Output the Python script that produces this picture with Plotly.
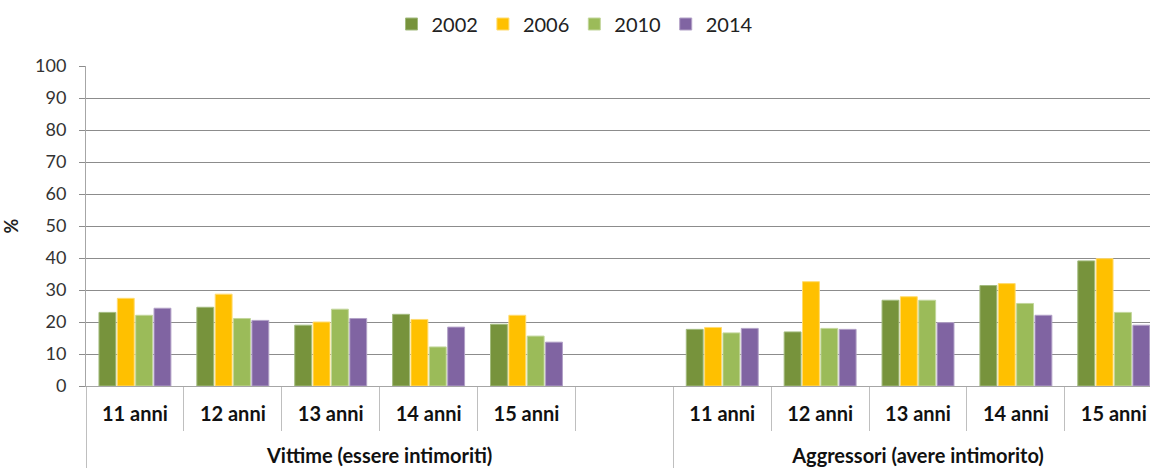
import plotly.graph_objects as go

years = ["2002", "2006", "2010", "2014"]
colors = ["#77933C", "#FFC000", "#9BBB59", "#8064A2"]
edge_colors = ["#A3BB7E", "#FFDB70", "#C2D69B", "#B2A1C7"]

group_labels = ["<br>Vittime (essere intimoriti)"] * 6 + ["<br>Aggressori (avere intimorito)"] * 5
age_labels = ["11 anni", "12 anni", "13 anni", "14 anni", "15 anni", " ",
              "11 anni", "12 anni", "13 anni", "14 anni", "15 anni"]

v2002 = [23.0, 24.6, 19.0, 22.4, 19.3, None, 17.7, 16.9, 26.8, 31.4, 39.1]
v2006 = [27.4, 28.7, 20.0, 20.8, 22.1, None, 18.3, 32.6, 27.9, 32.0, 39.8]
v2010 = [22.1, 21.1, 24.0, 12.2, 15.6, None, 16.6, 18.0, 26.8, 25.8, 23.0]
v2014 = [24.3, 20.5, 21.1, 18.4, 13.7, None, 18.0, 17.7, 19.8, 22.1, 19.0]
series = [v2002, v2006, v2010, v2014]

font_family = "Lato, 'Open Sans', sans-serif"

fig = go.Figure()
for name, vals, c, ec in zip(years, series, colors, edge_colors):
    fig.add_trace(go.Bar(
        name=name,
        x=[group_labels, age_labels],
        y=vals,
        marker=dict(color=c, line=dict(color=ec, width=1)),
    ))

fig.update_layout(
    width=1150, height=470,
    margin=dict(l=86, r=0, t=66, b=84, autoexpand=False),
    paper_bgcolor="white", plot_bgcolor="white",
    barmode="group", bargap=0.25, bargroupgap=0.08,
    font=dict(family=font_family, color="#222"),
    showlegend=True,
    legend=dict(orientation="h", x=0.5, xref="container", xanchor="center",
                y=1 - 24 / 470, yref="container", yanchor="middle",
                font=dict(size=20, color="#222"), itemwidth=30,
                traceorder="normal"),
    yaxis=dict(range=[0, 100], dtick=10, showgrid=True, gridcolor="#8C8C8C", gridwidth=1,
               showline=True, linecolor="#A6A6A6", linewidth=1, automargin=False,
               tickfont=dict(size=18, color="#333"), ticks="outside", ticklen=6,
               tickcolor="#8C8C8C", ticklabelstandoff=9, zeroline=False,
               title=dict(text="%", font=dict(size=18, color="#222", weight="bold"), standoff=16)),
    xaxis=dict(type="multicategory", range=[-0.5, 10.37], automargin=False,
               showline=True, linecolor="#A6A6A6", linewidth=1,
               ticks="outside", tickson="boundaries", ticklen=44, tickcolor="#BFBFBF",
               showdividers=True, dividercolor="#BFBFBF", dividerwidth=1,
               ticklabelstandoff=10,
               tickfont=dict(size=20, color="#111", weight="bold")),
)

page_fix = ("document.body.style.margin='0';"
            "document.body.style.overflow='hidden';"
            "document.documentElement.style.overflow='hidden';")

fig.write_html("out.html", post_script=page_fix, config={"displayModeBar": False})
